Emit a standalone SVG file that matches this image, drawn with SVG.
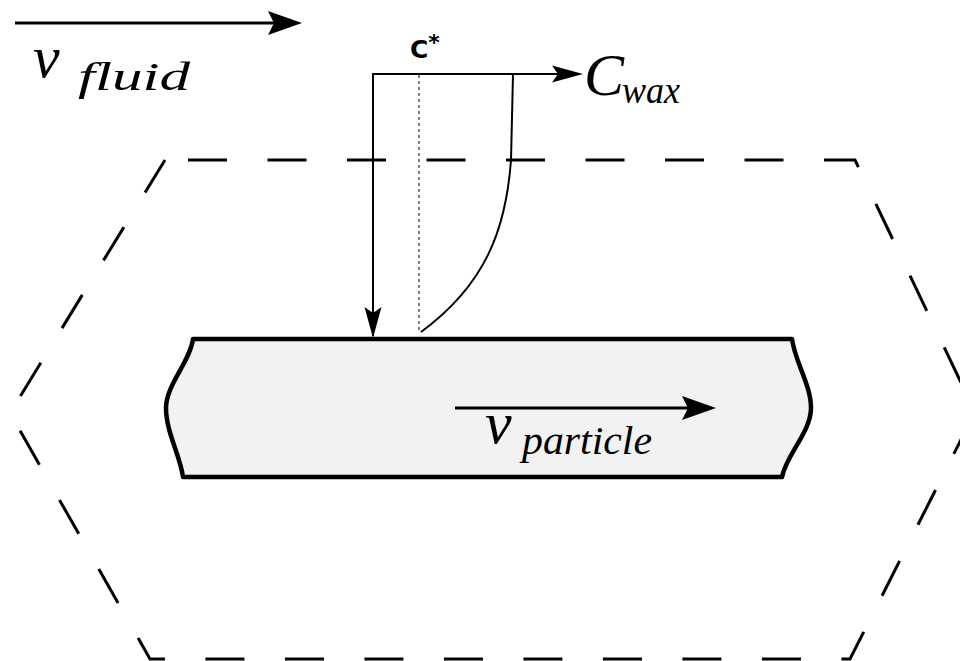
<svg xmlns="http://www.w3.org/2000/svg" width="960" height="661" viewBox="0 0 960 661">
<style>
.ln{fill:none;stroke:#000}
.head{fill:#000;stroke:none}
.math{font-family:'Liberation Serif','DejaVu Serif',serif;font-style:italic}
</style>
<defs>
<path id="ahBig" d="M0,0 L-34,-12 L-28,0 L-34,12 Z"/>
<path id="ahSmall" d="M0,0 L-31,-8.5 L-25,0 L-31,8.5 Z"/>
</defs>
<rect width="960" height="661" fill="#fff"/>
<g id="control-volume">
<path class="ln" d="M165,160 L855,160 L975,412 L850,659 L150,659 L10,413 Z" stroke-width="3" stroke-dasharray="39 40.5" stroke-dashoffset="56.5"/>
</g>
<g id="particle">
<path d="M193,339 L792,339 C795,362 811,385 811,408 C811,432 786,455 782,477 L183,477 C180,455 166,432 166,408 C166,385 190,362 193,339 Z" fill="#f2f2f2" stroke="#000" stroke-width="4.5" stroke-linejoin="round"/>
</g>
<g id="connectors">
<g id="v-fluid-arrow">
<line class="ln" x1="15" y1="23" x2="276" y2="23" stroke-width="3"/>
<use href="#ahBig" transform="translate(302,23)" class="head"/>
</g>
<g id="v-particle-arrow">
<line class="ln" x1="455" y1="408" x2="690" y2="408" stroke-width="3"/>
<use href="#ahBig" transform="translate(716,408)" class="head"/>
</g>
<g id="cwax-axis">
<polyline class="ln" points="373,336 373,74 558,74" stroke-width="2"/>
<use href="#ahSmall" transform="translate(583,74)" class="head"/>
<use href="#ahSmall" transform="translate(373,338) rotate(90)" class="head"/>
</g>
<line id="c-star-line" class="ln" x1="419" y1="75" x2="419" y2="332" stroke-width="1" stroke-dasharray="3 3"/>
<path id="profile" class="ln" d="M513,74 L511,160 C506,230 485,285 421,332" stroke-width="2"/>
</g>
<g id="labels" fill="#000">
<text x="410" y="58" font-family="DejaVu Sans, sans-serif" font-weight="bold" font-size="25">C<tspan font-size="22" dy="-8">*</tspan></text>
<text class="math" x="584" y="95" font-size="60">C</text>
<text class="math" x="622" y="103" font-size="38" textLength="58" lengthAdjust="spacingAndGlyphs">wax</text>
<text class="math" x="33" y="77" font-size="60">v</text>
<text class="math" x="78" y="90" font-size="40" textLength="112" lengthAdjust="spacingAndGlyphs">fluid</text>
<text class="math" x="485" y="443" font-size="60">v</text>
<text class="math" x="522" y="454" font-size="40" textLength="130" lengthAdjust="spacingAndGlyphs">particle</text>
</g>
</svg>
